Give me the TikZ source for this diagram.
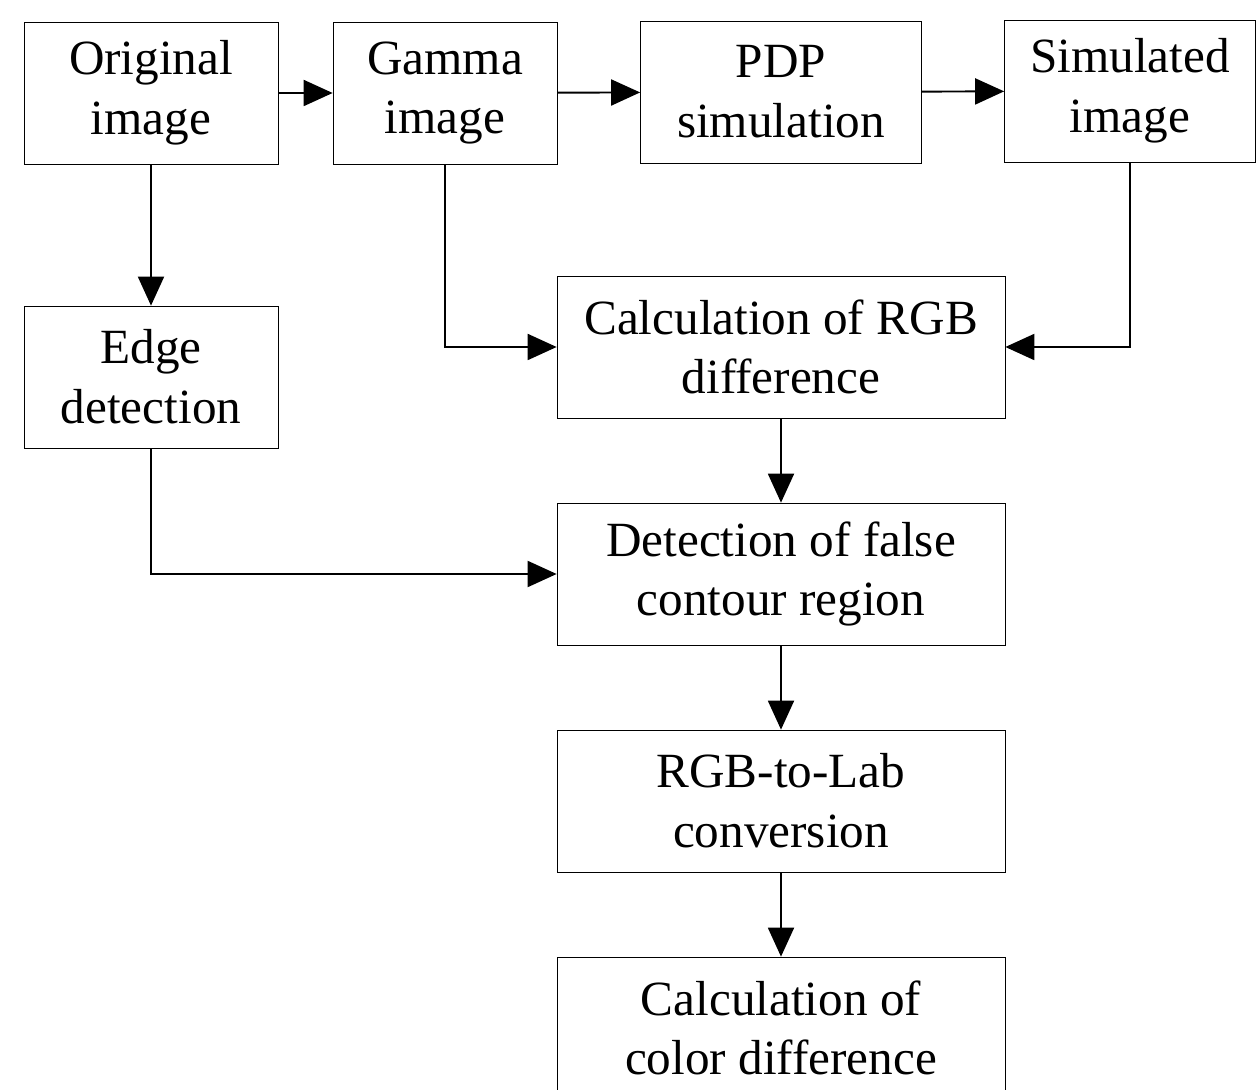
\documentclass[tikz,border=0pt]{standalone}
\usepackage{fontspec}
\setmainfont{Liberation Serif}
\usetikzlibrary{arrows.meta,calc,positioning}
\tikzset{>={Triangle[length=5.8mm,width=5.2mm]},line width=1.1pt,
  every node/.style={font=\fontsize{28}{34}\selectfont},
  stage/.style={draw,align=center,minimum height=2.84cm,inner sep=2pt},
  flow/.style={->,line width=1.1pt}}
\begin{document}
\begin{tikzpicture}[x=.2mm,y=-.2mm]
\useasboundingbox (0,0) rectangle (1258,1090);
\clip (0,0) rectangle (1258,1090);
% top row
\node[stage,minimum width=5.08cm] (orig) at (151,93) {Original\\image};
\node[stage,minimum width=4.48cm] (gamma) at (445,93) {Gamma\\image};
\node[stage,minimum width=5.62cm] (pdp) at (781,92) {PDP\\simulation};
\node[stage,minimum width=5.02cm] (sim) at (1130,91) {Simulated\\image};
% left column
\node[stage,minimum width=5.08cm] (edge) at (151,377) {Edge\\detection};
% main column
\node[stage,minimum width=8.96cm] (rgbdiff) at (781,347) {Calculation of RGB\\difference};
\node[stage,minimum width=8.96cm] (contour) at (781,574) {Detection of false\\contour region};
\node[stage,minimum width=8.96cm] (lab) at (781,801) {RGB-to-Lab\\conversion};
\node[stage,minimum width=8.96cm] (colordiff) at (781,1028) {Calculation of\\color difference};
\draw[flow] (orig) -- (gamma);
\draw[flow] (gamma) -- (pdp);
\draw[flow] (pdp) -- (sim);
\draw[flow] (orig) -- (edge);
\draw[flow] (gamma.south) |- (rgbdiff.west);
\draw[flow] (sim.south) |- (rgbdiff.east);
\draw[flow] (edge.south) |- (contour.west);
\draw[flow] (rgbdiff) -- (contour);
\draw[flow] (contour) -- (lab);
\draw[flow] (lab) -- (colordiff);
\end{tikzpicture}
\end{document}
